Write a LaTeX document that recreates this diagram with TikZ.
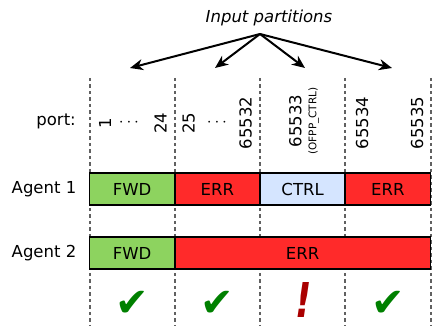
\documentclass[tikz,border=0pt]{standalone}
\usepackage{fontspec}
\setmainfont{DejaVu Sans}
\usetikzlibrary{positioning, arrows.meta}
\definecolor{fwdgreen}{RGB}{141,211,95}
\definecolor{errred}{RGB}{255,42,42}
\definecolor{ctrlblue}{RGB}{213,229,255}
\definecolor{okgreen}{RGB}{0,128,0}
\definecolor{warnred}{RGB}{170,0,0}
\newcommand{\lblfont}{\fontsize{16.5}{19}\selectfont}
\tikzstyle{cell} = [rectangle, minimum width=85.25pt, minimum height=32pt, inner sep=0pt, outer sep=0pt, text centered, draw=black, line width=1.8pt, font=\lblfont]
\tikzstyle{fwd} = [cell, fill=fwdgreen]
\tikzstyle{err} = [cell, fill=errred]
\tikzstyle{ctrl} = [cell, fill=ctrlblue]
\tikzstyle{rowlabel} = [inner sep=0pt, font=\lblfont]
\tikzstyle{port} = [rotate=90, inner sep=0pt, font=\lblfont]
\tikzstyle{sep} = [dash pattern=on 3.5pt off 3pt, line width=2pt, draw=black!62]
\tikzstyle{arrow} = [line width=2pt, -{Stealth[length=13pt, width=11pt, inset=4pt]}]
\tikzstyle{okmark} = [text=okgreen, inner sep=0pt, font=\fontsize{40}{40}\selectfont]
\tikzstyle{warnmark} = [text=warnred, inner sep=0pt, font=\fontsize{48}{48}\selectfont\bfseries\itshape]

\begin{document}
\begin{tikzpicture}[x=1pt, y=-1pt]
\useasboundingbox (0,0) rectangle (432,326);

% partition borders
\foreach \x in {89.5,174.75,260,345.25,430.5}
  \draw [sep] (\x,78) -- (\x,326);

% title and arrows
\node (title) [rowlabel, font=\lblfont\itshape] at (269,18) {Input partitions};
\coordinate (split) at (260,34);
\foreach \x [count=\i] in {130,215,305,392}
  \coordinate (part\i) at (\x,68);
\foreach \i in {1,...,4}
  \draw [arrow] (split) -- (part\i);

% ports
\node (portlbl) [rowlabel, anchor=east] at (76,121) {port:};
\foreach \x/\p in {105/1, 160.5/24, 188.5/25, 245.5/65532, 362/65534, 417/65535}
  \node (p\p) [port] at (\x,123) {\p};
\node (dots1) [rowlabel] at (129,123) {$\cdots$};
\node (dots2) [rowlabel] at (217,123) {$\cdots$};
\node (p65533) [port, align=center] at (304,121) {65533\\[-4pt]{\fontsize{10.5}{12}\selectfont (OFPP\_CTRL)}};

% agent 1
\node (a1fwd) [fwd, anchor=north west] at (89.5,173) {FWD};
\node (a1err) [err, right=0pt of a1fwd] {ERR};
\node (a1ctrl) [ctrl, right=0pt of a1err] {CTRL};
\node (a1err2) [err, right=0pt of a1ctrl] {ERR};
\node (agent1) [rowlabel, left=13pt of a1fwd] {Agent 1};

% agent 2
\node (a2fwd) [fwd, below=32pt of a1fwd] {FWD};
\node (a2err) [err, minimum width=255.75pt, right=0pt of a2fwd] {ERR};
\node (agent2) [rowlabel, left=13pt of a2fwd] {Agent 2};

% outcome
\node (ok1) [okmark] at (132,304) {✔};
\node (ok2) [okmark] at (217,304) {✔};
\node (warn) [warnmark, xscale=0.75, anchor=south] at (304,318) {!};
\node (ok3) [okmark] at (388,304) {✔};

\end{tikzpicture}
\end{document}
